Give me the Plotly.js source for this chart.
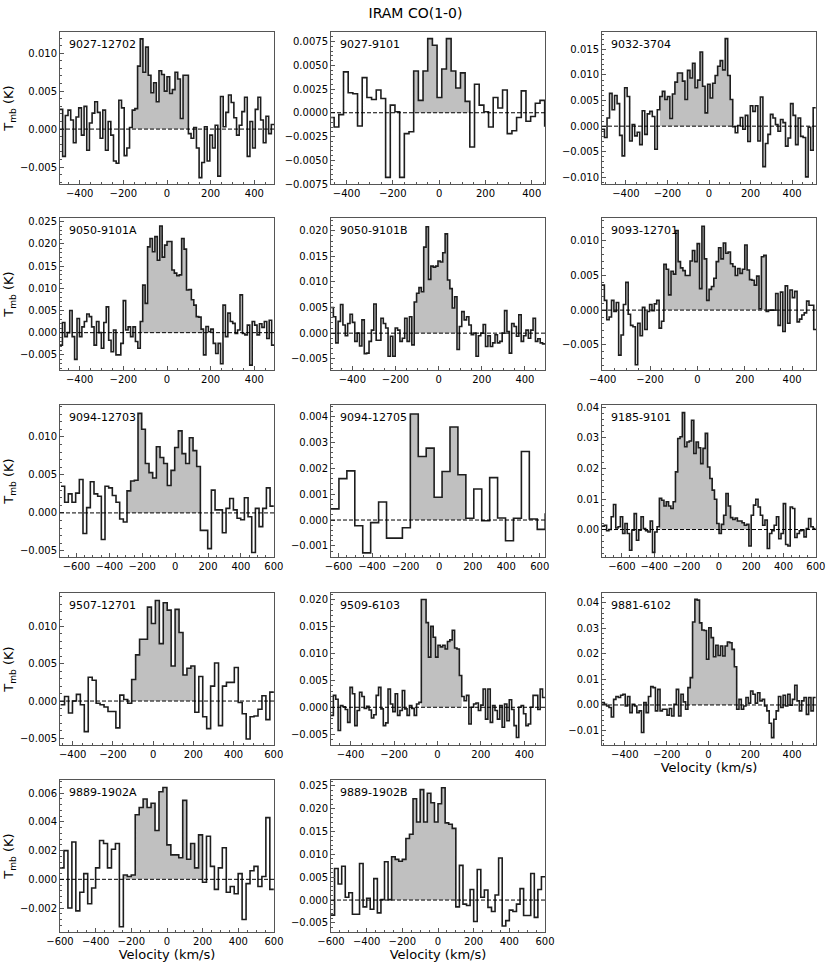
<!DOCTYPE html>
<html>
<head>
<meta charset="utf-8">
<script src="https://cdn.plot.ly/plotly-3.0.1.min.js"></script>
<style>
  html, body { margin: 0; padding: 0; background: #fff; }
  #plot { width: 831px; height: 965px; }
</style>
</head>
<body>
<div id="plot"></div>
<script>
// IRAM CO(1-0) spectra, one value per velocity channel (Tmb in K)
const names = ["9027-12702", "9027-9101", "9032-3704", "9050-9101A", "9050-9101B",
  "9093-12701", "9094-12703", "9094-12705", "9185-9101", "9507-12701",
  "9509-6103", "9881-6102", "9889-1902A", "9889-1902B"];

// left edge of the first channel and channel width (km/s)
const vStart = [-490, -473.6, -515, -490, -499, -403, -694, -645, -723, -460, -490, -509, -600, -600];
const vStep = [12.25, 20.2, 12.1, 11.14, 11.02, 10.05, 22.3, 47.3, 14.2, 19.63, 10.94, 11.1, 22.2, 20];

// channels of the line window (shaded)
const fillFrom = [27, 18, 23, 33, 35, 26, 18, 10, 25, 18, 38, 37, 16, 17];
const fillTo = [47, 29, 51, 58, 52, 68, 37, 16, 63, 33, 54, 57, 35, 34];

const s9027_12702 = [0.0026, -0.0036, 0.0018, 0.0025, 0.0012, -0.0018, 0.0016, 0.0028, -0.0008, 0.0030,
  -0.0028, 0.0008, 0.0021, 0.0036, 0.0022, -0.0012, 0.0025, -0.0028, 0.0010, -0.0008,
  -0.0042, -0.0045, 0.0038, 0.0028, -0.0035, -0.0025, 0.0002, 0.0025, 0.0027, 0.0083,
  0.0119, 0.0075, 0.0108, 0.0071, 0.0048, 0.0061, 0.0036, 0.0077, 0.0072, 0.0050,
  0.0069, 0.0047, 0.0052, 0.0075, 0.0066, 0.0014, 0.0071, 0.0071, -0.0006, -0.0012,
  0.0002, -0.0025, -0.0064, -0.0044, 0.0003, -0.0042, -0.0008, -0.0025, 0.0005, -0.0062,
  0.0043, 0.0003, 0.0022, 0.0045, 0.0035, 0.0015, -0.0008, 0.0005, 0.0023, 0.0042,
  -0.0036, 0.0010, -0.0025, 0.0026, 0.0042, 0.0012, -0.0018, 0.0017, -0.0006, 0.0006];

const s9027_9101 = [-0.0005, -0.0015, -0.0002, 0.0043, 0.0021, 0.0020, -0.0014, 0.0037, 0.0016, 0.0014,
  0.0024, 0.0015, -0.0068, 0.0008, 0.0001, -0.0068, -0.0022, -0.0020, 0.0044, 0.0013,
  0.0044, 0.0078, 0.0071, 0.0016, 0.0046, 0.0078, 0.0044, 0.0026, 0.0042, 0.0012,
  -0.0036, 0.0030, 0.0008, 0.0001, -0.0015, 0.0016, 0.0005, 0.0024, -0.0022, -0.0019,
  -0.0005, 0.0023, -0.0009, -0.0004, 0.0010, 0.0013, -0.0014];

const s9032_3704 = [-0.0006, -0.0022, 0.0016, 0.0064, 0.0032, 0.0060, 0.0044, -0.0018, -0.0058, 0.0075,
  0.0058, -0.0029, 0.0003, -0.0019, -0.0012, -0.0036, 0.0030, -0.0016, 0.0024, 0.0029,
  0.0019, -0.0045, 0.0032, 0.0058, 0.0068, 0.0052, 0.0058, 0.0015, 0.0063, 0.0086,
  0.0104, 0.0104, 0.0088, 0.0052, 0.0109, 0.0094, 0.0123, 0.0075, 0.0090, 0.0145,
  0.0078, 0.0026, 0.0082, 0.0055, 0.0084, 0.0099, 0.0117, 0.0128, 0.0110, 0.0171,
  0.0099, 0.0052, -0.0001, -0.0013, 0.0001, 0.0017, -0.0006, 0.0021, -0.0030, 0.0040,
  0.0029, 0.0040, -0.0029, 0.0057, -0.0079, -0.0034, -0.0016, 0.0023, 0.0016, 0.0003,
  -0.0010, 0.0013, 0.0007, -0.0039, -0.0023, 0.0044, 0.0021, -0.0036, 0.0016, -0.0020,
  -0.0022, -0.0099, -0.0002, -0.0047, 0.0036];

const s9050_9101A = [-0.0028, 0.0023, -0.0009, 0.0000, 0.0050, -0.0009, -0.0060, 0.0032, -0.0009, 0.0013,
  0.0025, 0.0042, 0.0036, 0.0013, -0.0028, 0.0025, 0.0000, -0.0035, 0.0023, 0.0058,
  -0.0017, -0.0043, 0.0006, -0.0050, -0.0050, -0.0024, 0.0072, 0.0006, 0.0013, -0.0009,
  0.0013, -0.0020, -0.0035, 0.0025, 0.0107, 0.0066, 0.0193, 0.0212, 0.0182, 0.0216,
  0.0163, 0.0240, 0.0170, 0.0197, 0.0205, 0.0205, 0.0141, 0.0134, 0.0128, 0.0130,
  0.0212, 0.0188, 0.0096, 0.0097, 0.0074, 0.0062, 0.0036, 0.0035, 0.0008, -0.0050,
  0.0014, 0.0002, 0.0008, -0.0024, -0.0047, -0.0024, -0.0070, 0.0062, -0.0009, 0.0044,
  0.0025, 0.0021, -0.0002, 0.0006, 0.0085, -0.0002, -0.0005, 0.0017, -0.0073, 0.0025,
  0.0017, -0.0005, 0.0020, 0.0012, 0.0025, -0.0013, 0.0028, -0.0028];

const s9050_9101B = [0.0050, 0.0032, -0.0019, 0.0023, 0.0056, 0.0016, -0.0005, 0.0019, 0.0037, 0.0021,
  -0.0016, 0.0000, -0.0025, 0.0026, -0.0040, -0.0039, -0.0016, 0.0006, 0.0057, -0.0014,
  -0.0014, 0.0029, 0.0019, 0.0010, -0.0045, -0.0006, -0.0045, 0.0010, 0.0006, -0.0016,
  -0.0010, 0.0029, -0.0016, 0.0032, -0.0023, 0.0061, 0.0078, 0.0089, 0.0081, 0.0168,
  0.0208, 0.0105, 0.0131, 0.0129, 0.0131, 0.0141, 0.0139, 0.0157, 0.0194, 0.0104,
  0.0087, 0.0049, 0.0071, -0.0032, 0.0013, 0.0042, 0.0026, 0.0032, 0.0016, -0.0003,
  0.0000, -0.0045, -0.0005, 0.0000, 0.0017, -0.0026, -0.0005, -0.0026, -0.0019, -0.0003,
  -0.0019, -0.0016, 0.0000, 0.0044, 0.0003, -0.0039, 0.0019, 0.0013, -0.0006, 0.0036,
  -0.0016, -0.0005, 0.0006, -0.0010, 0.0006, 0.0029, -0.0016, -0.0011, -0.0019, -0.0021];

const s9093_12701 = [0.0036, 0.0014, -0.0014, -0.0010, 0.0014, -0.0002, 0.0011, -0.0065, -0.0036, 0.0008,
  0.0040, -0.0006, -0.0022, -0.0024, -0.0079, -0.0019, -0.0037, 0.0004, -0.0028, -0.0002,
  0.0008, -0.0001, 0.0009, 0.0014, -0.0026, -0.0016, 0.0066, 0.0059, 0.0022, 0.0056,
  0.0052, 0.0115, 0.0070, 0.0061, 0.0057, 0.0050, 0.0050, 0.0071, 0.0086, 0.0070,
  0.0096, 0.0031, 0.0121, 0.0074, 0.0014, 0.0030, 0.0034, 0.0046, 0.0070, 0.0090,
  0.0074, 0.0097, 0.0082, 0.0084, 0.0067, 0.0063, 0.0050, 0.0060, 0.0053, 0.0059,
  0.0094, 0.0058, 0.0044, 0.0043, 0.0036, 0.0049, 0.0002, 0.0077, 0.0079, -0.0002,
  0.0000, 0.0000, 0.0000, 0.0024, -0.0022, 0.0026, -0.0031, 0.0035, -0.0019, 0.0029,
  0.0018, 0.0027, -0.0017, -0.0013, -0.0007, -0.0004, 0.0013, 0.0007, 0.0007, -0.0028];

const s9094_12703 = [0.0035, 0.0014, 0.0025, 0.0014, 0.0026, 0.0044, -0.0027, 0.0007, 0.0041, 0.0025,
  0.0022, -0.0035, 0.0035, 0.0033, 0.0023, 0.0014, -0.0008, -0.0012, 0.0029, 0.0042,
  0.0043, 0.0131, 0.0110, 0.0065, 0.0053, 0.0046, 0.0087, 0.0073, 0.0065, 0.0036,
  0.0056, 0.0086, 0.0108, 0.0078, 0.0065, 0.0099, 0.0082, 0.0061, -0.0023, -0.0023,
  -0.0047, 0.0030, 0.0004, 0.0004, -0.0026, 0.0006, 0.0019, 0.0004, -0.0007, -0.0009,
  0.0020, -0.0005, -0.0052, 0.0006, -0.0018, 0.0006, 0.0033, 0.0009];

const s9094_12705 = [0.00043, 0.0016, 0.0019, -0.00022, -0.00127, -0.0001, 0.0007, -0.0007, -0.0007, -0.0003,
  0.0041, 0.00246, 0.00278, 0.00088, 0.00188, 0.0036, 0.00175, 0.00007, 0.0012, -0.00003,
  0.00164, 0.00008, -0.0008, 0.00007, 0.00265, 0.00004, -0.00036, 0.00023];

const s9185_9101 = [0.0011, 0.0014, -0.0004, 0.0000, 0.0042, 0.0082, 0.0005, 0.0009, 0.0042, -0.0013,
  0.0020, -0.0013, -0.0068, -0.0002, 0.0052, -0.0035, -0.0002, 0.0042, 0.0003, -0.0004,
  -0.0008, 0.0028, -0.0075, -0.0008, 0.0009, 0.0102, 0.0096, 0.0077, 0.0091, 0.0077,
  0.0069, 0.0091, 0.0189, 0.0298, 0.0304, 0.0383, 0.0271, 0.0287, 0.0290, 0.0358,
  0.0249, 0.0287, 0.0268, 0.0216, 0.0266, 0.0315, 0.0205, 0.0167, 0.0129, 0.0099,
  0.0020, -0.0013, 0.0017, 0.0047, 0.0118, 0.0077, 0.0039, 0.0033, 0.0038, 0.0028,
  0.0028, 0.0022, 0.0014, 0.0017, -0.0054, 0.0047, 0.0080, 0.0099, 0.0074, 0.0047,
  0.0014, 0.0031, -0.0062, -0.0013, -0.0004, 0.0014, 0.0042, -0.0030, -0.0013, 0.0085,
  -0.0049, -0.0054, 0.0074, 0.0069, -0.0026, -0.0013, -0.0004, -0.0002, -0.0024, 0.0003,
  0.0036, 0.0009, 0.0003];

const s9507_12701 = [-0.0005, 0.0006, -0.0016, 0.0000, 0.0009, -0.0005, -0.0041, 0.0032, 0.0028, -0.0003,
  -0.0005, -0.0008, -0.0014, -0.0014, -0.0036, 0.0008, 0.0002, -0.0003, 0.0029, 0.0062,
  0.0083, 0.0083, 0.0126, 0.0104, 0.0135, 0.0077, 0.0132, 0.0122, 0.0047, 0.0123,
  0.0092, 0.0035, 0.0044, 0.0047, -0.0015, 0.0033, -0.0021, -0.0037, 0.0020, 0.0051,
  -0.0033, 0.0020, 0.0025, 0.0025, 0.0045, -0.0002, -0.0017, -0.0051, -0.0021, -0.0020,
  -0.0011, 0.0007, -0.0025, 0.0012];

const s9509_6103 = [-0.0015, 0.0022, 0.0015, -0.0043, 0.0003, 0.0001, -0.0004, -0.0028, 0.0037, 0.0025,
  -0.0034, -0.0006, 0.0028, 0.0020, -0.0002, 0.0002, -0.0005, -0.0020, -0.0014, 0.0022,
  0.0037, -0.0003, -0.0034, -0.0029, 0.0034, 0.0006, -0.0008, 0.0025, -0.0015, -0.0006,
  0.0031, -0.0003, -0.0015, 0.0003, -0.0002, -0.0015, 0.0006, 0.0009, 0.0200, 0.0200,
  0.0157, 0.0093, 0.0150, 0.0130, 0.0093, 0.0115, 0.0112, 0.0115, 0.0108, 0.0122,
  0.0125, 0.0143, 0.0110, 0.0108, 0.0059, 0.0020, 0.0012, 0.0022, -0.0031, 0.0000,
  0.0006, 0.0008, -0.0006, 0.0004, 0.0034, -0.0022, 0.0034, -0.0028, 0.0003, -0.0006,
  -0.0022, 0.0003, -0.0037, 0.0006, -0.0025, 0.0014, -0.0004, -0.0034, -0.0056, 0.0000,
  0.0003, -0.0012, -0.0034, -0.0031, 0.0000, 0.0022, 0.0022, -0.0004, 0.0034, 0.0018];

const s9881_6102 = [0.0009, 0.0003, -0.0004, -0.0010, -0.0047, 0.0022, 0.0033, 0.0029, 0.0038, 0.0042,
  -0.0004, 0.0033, -0.0030, 0.0003, -0.0004, -0.0030, -0.0023, -0.0108, 0.0009, -0.0030,
  0.0033, 0.0072, 0.0068, -0.0023, 0.0061, -0.0023, -0.0017, -0.0017, -0.0040, -0.0014,
  -0.0043, 0.0003, 0.0061, -0.0043, 0.0042, 0.0012, -0.0017, 0.0068, 0.0107, 0.0325,
  0.0414, 0.0411, 0.0322, 0.0294, 0.0292, 0.0179, 0.0303, 0.0264, 0.0189, 0.0234,
  0.0194, 0.0231, 0.0192, 0.0231, 0.0247, 0.0244, 0.0218, 0.0150, -0.0017, 0.0022,
  -0.0017, -0.0004, 0.0029, 0.0007, 0.0055, 0.0042, 0.0007, 0.0048, 0.0016, 0.0022,
  -0.0004, -0.0023, -0.0072, -0.0128, -0.0056, -0.0023, 0.0033, -0.0010, 0.0038, -0.0004,
  0.0042, -0.0001, 0.0022, 0.0077, 0.0016, -0.0023, 0.0016, 0.0029, -0.0037, 0.0029,
  -0.0023, 0.0029];

const s9889_1902A = [0.0008, 0.0020, -0.0020, 0.0026, -0.0022, -0.0009, 0.0004, -0.0017, -0.0006, 0.0008,
  0.0027, 0.0025, 0.0008, 0.0021, 0.0025, -0.0033, 0.0003, 0.0002, 0.0003, 0.0045,
  0.0050, 0.0056, 0.0050, 0.0053, 0.0034, 0.0061, 0.0064, 0.0024, 0.0017, 0.0017,
  0.0015, 0.0055, 0.0014, 0.0025, 0.0008, 0.0031, -0.0002, 0.0030, 0.0009, -0.0007,
  0.0008, 0.0022, -0.0009, -0.0005, -0.0010, 0.0004, -0.0028, -0.0003, 0.0006, 0.0009,
  -0.0005, 0.0002, 0.0043, -0.0007];

const s9889_1902B = [-0.0033, 0.0069, 0.0035, 0.0074, 0.0006, 0.0016, -0.0031, -0.0031, 0.0080, -0.0015,
  0.0004, -0.0020, 0.0047, -0.0028, 0.0001, 0.0084, 0.0001, 0.0095, 0.0089, 0.0085,
  0.0089, 0.0135, 0.0144, 0.0222, 0.0171, 0.0242, 0.0171, 0.0234, 0.0213, 0.0171,
  0.0211, 0.0246, 0.0169, 0.0166, 0.0157, -0.0015, 0.0076, -0.0009, -0.0012, 0.0023,
  -0.0047, 0.0067, 0.0006, 0.0022, -0.0016, -0.0025, 0.0011, 0.0092, -0.0057, -0.0045,
  -0.0022, -0.0025, -0.0009, 0.0025, -0.0034, -0.0034, 0.0058, -0.0038, 0.0023, 0.0051];

const spectra = [s9027_12702, s9027_9101, s9032_3704, s9050_9101A, s9050_9101B,
  s9093_12701, s9094_12703, s9094_12705, s9185_9101, s9507_12701,
  s9509_6103, s9881_6102, s9889_1902A, s9889_1902B];

// axis limits and y tick spacing per panel
const xRange = [[-490, 490], [-467, 457], [-515, 515], [-490, 490], [-499, 493], [-403, 501], [-700, 601],
  [-645, 631], [-723, 601], [-463, 601], [-490, 495], [-509, 514], [-600, 600], [-600, 600]];
const yRange = [[-0.00724, 0.0128], [-0.0075, 0.0085], [-0.0113, 0.0184], [-0.0084, 0.0258],
  [-0.0072, 0.0225], [-0.00865, 0.0133], [-0.0058, 0.0142], [-0.00143, 0.00445],
  [-0.009, 0.0408], [-0.0059, 0.0145], [-0.0070, 0.0212], [-0.0157, 0.0439],
  [-0.00367, 0.00692], [-0.0070, 0.0263]];
const yDtick = [0.005, 0.0025, 0.005, 0.005, 0.005, 0.005, 0.005, 0.001, 0.01, 0.005, 0.005, 0.01, 0.002, 0.005];
const yFormat = [".3f", ".4f", ".3f", ".3f", ".3f", ".3f", ".3f", ".3f", ".2f", ".3f", ".3f", ".2f", ".3f", ".3f"];

const W = 831, H = 965;
const colLeft = [60, 331, 602], rowTop = [32, 218, 405, 593, 780];
const PW = 214, PH = 152;
const frame = "#555";

const traces = [];
const layout = {
  width: W,
  height: H,
  margin: { l: 0, r: 0, t: 0, b: 0 },
  paper_bgcolor: "#fff",
  plot_bgcolor: "#fff",
  showlegend: false,
  font: { family: "DejaVu Sans, sans-serif", size: 10, color: "#000" },
  title: {
    text: "IRAM CO(1-0)",
    font: { size: 14 },
    x: 0.5,
    xanchor: "center",
    y: 1 - 13 / H,
    yanchor: "middle",
  },
  annotations: [],
  shapes: [],
};

spectra.forEach((vals, p) => {
  const k = p === 0 ? "" : String(p + 1);
  const xa = "x" + k, ya = "y" + k;
  const row = Math.floor(p / 3), col = p % 3;

  // channel edges from start + width
  const edges = [];
  for (let i = 0; i <= vals.length; i++) edges.push(vStart[p] + i * vStep[p]);

  const a = fillFrom[p], b = fillTo[p];
  traces.push({
    x: edges.slice(a, b + 2),
    y: vals.slice(a, b + 1).concat([vals[b]]),
    xaxis: xa, yaxis: ya,
    mode: "lines",
    line: { shape: "hv", width: 0 },
    fill: "tozeroy",
    fillcolor: "#c0c0c0",
    hoverinfo: "skip",
  });
  traces.push({
    x: edges,
    y: vals.concat([vals[vals.length - 1]]),
    xaxis: xa, yaxis: ya,
    mode: "lines",
    line: { shape: "hv", width: 1.6, color: "#1e1e1e" },
  });

  const xl = colLeft[col], yt = rowTop[row];
  layout["xaxis" + k] = {
    domain: [xl / W, (xl + PW) / W],
    anchor: ya,
    range: xRange[p],
    dtick: 200, tick0: 0,
    ticks: "inside", ticklen: 4, tickcolor: frame,
    minor: { dtick: 50, tick0: 0, ticks: "inside", ticklen: 2, tickcolor: frame },
    showline: true, mirror: true, linecolor: frame, linewidth: 1,
    showgrid: false, zeroline: false,
    tickfont: { size: 10 },
  };
  layout["yaxis" + k] = {
    domain: [1 - (yt + PH) / H, 1 - yt / H],
    anchor: xa,
    range: yRange[p],
    dtick: yDtick[p], tick0: 0,
    tickformat: yFormat[p],
    ticks: "inside", ticklen: 4, tickcolor: frame,
    minor: { dtick: yDtick[p] / 5, tick0: 0, ticks: "inside", ticklen: 2, tickcolor: frame },
    showline: true, mirror: true, linecolor: frame, linewidth: 1,
    showgrid: false, zeroline: false,
    tickfont: { size: 10 },
  };
  if (col === 0) {
    layout["yaxis" + k].title = { text: "T<sub>mb</sub> (K)", font: { size: 13 }, standoff: 3 };
  }
  if (p >= 11) {
    layout["xaxis" + k].title = { text: "Velocity (km/s)", font: { size: 13 }, standoff: 2 };
  }

  layout.shapes.push({
    type: "line", layer: "above",
    xref: xa + " domain", yref: ya,
    x0: 0, x1: 1, y0: 0, y1: 0,
    line: { color: "#000", width: 1, dash: "4px,2px" },
  });
  layout.annotations.push({
    text: names[p],
    xref: xa + " domain", yref: ya + " domain",
    x: 0.033, y: 0.975,
    xanchor: "left", yanchor: "top",
    showarrow: false,
    font: { size: 11, color: "#000" },
  });
});

Plotly.newPlot("plot", traces, layout, { displayModeBar: false, responsive: false });
</script>
</body>
</html>
